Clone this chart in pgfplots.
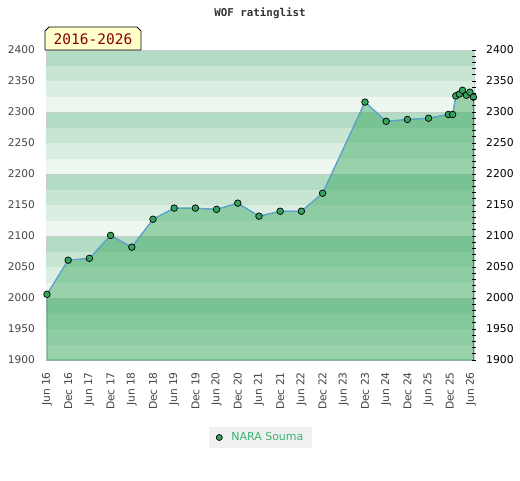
\documentclass[border=0pt]{standalone}
\usepackage{pgfplots}
\pgfplotsset{compat=1.18}
\usepackage{pgfplotstable}
\usepackage{fontspec}
\setmainfont{DejaVu Sans}
\newfontfamily\monofont{DejaVu Sans Mono}
\definecolor{cA}{RGB}{179,220,196}
\definecolor{cB}{RGB}{200,229,211}
\definecolor{cC}{RGB}{219,238,226}
\definecolor{cD}{RGB}{238,246,240}
\definecolor{areafill}{RGB}{45,163,85}
\definecolor{areaedge}{RGB}{50,150,85}
\definecolor{linecol}{RGB}{95,160,215}
\definecolor{markcol}{RGB}{52,163,94}
\definecolor{legtext}{RGB}{60,179,113}
\definecolor{tagfill}{RGB}{255,255,204}
\definecolor{tagtext}{RGB}{139,0,0}
\definecolor{ticklab}{RGB}{68,68,68}
\definecolor{hline}{RGB}{200,205,202}

\pgfplotstableread{
x y
0 2006
6 2061
12 2064
18 2101
24 2082
30 2127
36 2145
42 2145
48 2143
54 2153
60 2132
66 2140
72 2140
78 2169
90 2316
96 2285
102 2288
108 2290
113.6 2296
114.8 2296
115.7 2326
116.7 2329
117.6 2335
118.7 2327
119.7 2332
120.7 2324
}\ratings

\begin{document}
\begin{tikzpicture}
\path[use as bounding box] (-46pt,-120pt) rectangle (474pt,360pt);
\begin{axis}[
  at={(0pt,0pt)}, anchor=south west,
  scale only axis, width=428pt, height=310pt,
  xmin=-0.28, xmax=120.85, ymin=1900, ymax=2400,
  xtick={0,6,...,120},
  xticklabels={Jun 16,Dec 16,Jun 17,Dec 17,Jun 18,Dec 18,Jun 19,Dec 19,Jun 20,Dec 20,Jun 21,Dec 21,Jun 22,Dec 22,Jun 23,Dec 23,Jun 24,Dec 24,Jun 25,Dec 25,Jun 26},
  ytick={1900,1950,...,2400},
  /pgf/number format/assume math mode=true,
  /pgf/number format/set thousands separator={},
  tick style={draw=none},
  major tick length=0pt,
  axis line style={draw=hline, line width=0.8pt},
  axis background/.style={fill=cA},
  y tick label style={font=\fontsize{10.6}{12}\selectfont, text=ticklab, anchor=east, inner sep=0pt, xshift=-11pt},
  x tick label style={font=\fontsize{10.7}{12}\selectfont, text=ticklab, yshift=-12pt, rotate=90, anchor=east, inner sep=0pt},
  legend style={at={(0.502,-0.25)}, anchor=center, fill={rgb,255:red,240;green,240;blue,240}, draw=none, font=\fontsize{11}{13}\selectfont, text=legtext, inner xsep=7pt, inner ysep=3.5pt},
]
\pgfplotsinvokeforeach{19,20,21,22,23}{
  \fill[cD] (axis cs:-1,#100) rectangle (axis cs:122,#125);
  \fill[cC] (axis cs:-1,#125) rectangle (axis cs:122,#150);
  \fill[cB] (axis cs:-1,#150) rectangle (axis cs:122,#175);
  \draw[hline, line width=0.8pt] (axis cs:-1,#100) -- (axis cs:122,#100);
}
\addplot[forget plot, fill=areafill, fill opacity=0.44, draw=areaedge, line width=0.8pt] table[x=x,y=y] {\ratings} \closedcycle;
\addplot[forget plot, color=linecol, line width=1.2pt, mark=*, mark size=3.3pt, mark options={fill=markcol, draw=black, line width=0.7pt}] table[x=x,y=y] {\ratings};
\addlegendimage{only marks, mark=*, mark size=3pt, mark options={fill=markcol, draw=black, line width=0.7pt}}
\addlegendentry{\hspace{7pt}NARA Souma}
\end{axis}
\begin{axis}[
  at={(0pt,0pt)}, anchor=south west,
  scale only axis, width=428pt, height=310pt,
  xmin=-0.28, xmax=120.85, ymin=1900, ymax=2400,
  hide x axis,
  axis y line*=right,
  axis line style={draw=none},
  ytick={1900,1950,...,2400},
  minor y tick num=4,
  tick align=center,
  major tick length=4pt, minor tick length=4pt,
  tick style={draw=black, line width=0.7pt},
  /pgf/number format/assume math mode=true,
  /pgf/number format/set thousands separator={},
  y tick label style={font=\fontsize{10.8}{12}\selectfont, text=black, anchor=west, inner sep=0pt, xshift=10pt},
]
\end{axis}
\draw[fill=tagfill, draw=black, line width=0.8pt] (-1pt,310pt) -- (-1pt,329pt) -- (3pt,333pt) -- (91pt,333pt) -- (95pt,329pt) -- (95pt,310pt) -- cycle;
\node[text=tagtext, font=\monofont\fontsize{14.5}{16}\selectfont, inner sep=0pt] at (47pt,321pt) {2016-2026};
\node[text={rgb,255:red,51;green,51;blue,51}, font=\monofont\bfseries\fontsize{10.8}{12}\selectfont, inner sep=0pt] at (214pt,347pt) {WOF ratinglist};
\end{tikzpicture}
\end{document}
